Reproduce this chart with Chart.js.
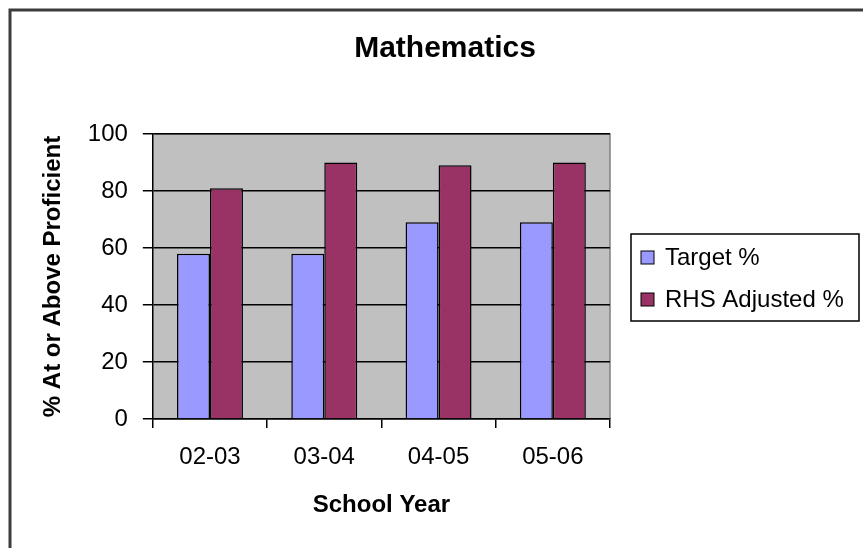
<!DOCTYPE html>
<html>
<head>
<meta charset="utf-8">
<script src="https://cdn.jsdelivr.net/npm/chart.js@4.4.1/dist/chart.umd.min.js"></script>
<style>
  html, body { margin: 0; padding: 0; background: #fff; }
  #wrap { width: 863px; height: 548px; position: relative; }
</style>
</head>
<body>
<div id="wrap"><canvas id="chart"></canvas></div>
<script>
// school years and the two series
var years = ["02-03", "03-04", "04-05", "05-06"];
var targetPct = [58, 58, 69, 69];
var rhsAdjustedPct = [81, 90, 89, 90];
var yTicks = [0, 20, 40, 60, 80, 100];

var FONT = "'Liberation Sans', Arial, sans-serif";

// grey plot area, frame round the chart, and the boxed legend on the right
var decor = {
    id: 'decor',
    beforeDraw: function(chart) {
        var ctx = chart.ctx, a = chart.chartArea;
        ctx.save();
        ctx.fillStyle = '#c0c0c0';
        ctx.fillRect(a.left, a.top, a.right - a.left, a.bottom - a.top);
        ctx.strokeStyle = '#808080';
        ctx.lineWidth = 1.5;
        ctx.beginPath();
        ctx.moveTo(a.left, a.top);
        ctx.lineTo(a.right, a.top);
        ctx.lineTo(a.right, a.bottom);
        ctx.stroke();
        // outer frame (only top and left show in the picture)
        ctx.strokeStyle = '#3c3c3c';
        ctx.lineWidth = 3;
        ctx.beginPath();
        ctx.moveTo(10, chart.height);
        ctx.lineTo(10, 10);
        ctx.lineTo(chart.width, 10);
        ctx.stroke();
        ctx.restore();
    },
    afterDraw: function(chart) {
        var ctx = chart.ctx, a = chart.chartArea;
        var lx = a.right + 31;
        var cy = (a.top + a.bottom) / 2;
        var rowGap = 42;
        ctx.save();
        ctx.strokeStyle = '#000';
        ctx.lineWidth = 1.5;
        ctx.strokeRect(lx - 10, cy - 42.5, 228, 87);
        ctx.font = '24px ' + FONT;
        ctx.textBaseline = 'middle';
        chart.data.datasets.forEach(function(ds, i) {
            var yc = cy - 19 + i * rowGap;
            ctx.fillStyle = ds.backgroundColor;
            ctx.fillRect(lx, yc - 6.5, 13, 13);
            ctx.lineWidth = 1;
            ctx.strokeStyle = '#000';
            ctx.strokeRect(lx, yc - 6.5, 13, 13);
            ctx.fillStyle = '#000';
            ctx.fillText(ds.label, lx + 24, yc + 1);
        });
        ctx.restore();
    }
};

new Chart(document.getElementById('chart'), {
    type: 'bar',
    data: {
        labels: years,
        datasets: [
            {
                label: 'Target %',
                data: targetPct,
                backgroundColor: '#9999ff',
                borderColor: '#000000',
                borderWidth: 1.5,
                categoryPercentage: 0.577,
                barPercentage: 1.0
            }, {
                label: 'RHS Adjusted %',
                data: rhsAdjustedPct,
                backgroundColor: '#993366',
                borderColor: '#000000',
                borderWidth: 1.5,
                categoryPercentage: 0.577,
                barPercentage: 1.0
            }
        ]
    },
    options: {
        responsive: true,
        maintainAspectRatio: false,
        animation: false,
        layout: { padding: { left: 39, right: 12, top: 10, bottom: 0 } },
        plugins: {
            title: {
                display: true,
                text: 'Mathematics',
                color: '#000',
                font: { family: FONT, size: 30, weight: 'bold' },
                padding: { top: 20.5, bottom: 67.5 }
            },
            legend: { display: false },
            tooltip: { enabled: false }
        },
        scales: {
            x: {
                grid: {
                    drawOnChartArea: false,
                    drawTicks: true,
                    tickLength: 9,
                    color: '#000',
                    lineWidth: 1.5
                },
                border: { display: true, color: '#000', width: 1.5 },
                ticks: {
                    color: '#000',
                    font: { family: FONT, size: 24 },
                    padding: 14.6
                },
                title: {
                    display: true,
                    text: 'School Year',
                    color: '#000',
                    font: { family: FONT, size: 24, weight: 'bold' },
                    padding: { top: 4.6, bottom: 28.6 }
                }
            },
            y: {
                min: 0,
                max: 100,
                afterBuildTicks: function(axis) {
                    axis.ticks = yTicks.map(function(v) { return { value: v }; });
                },
                grid: {
                    color: '#000',
                    lineWidth: 1.5,
                    tickLength: 10
                },
                border: { display: true, color: '#000', width: 1.5 },
                ticks: {
                    color: '#000',
                    font: { family: FONT, size: 24 },
                    padding: 15
                },
                title: {
                    display: true,
                    text: '% At or Above Proficient',
                    color: '#000',
                    font: { family: FONT, size: 24, weight: 'bold' },
                    padding: { top: 0, bottom: 5 }
                }
            },
            // empty space on the right, where the legend is drawn
            spacer: {
                type: 'linear',
                position: 'right',
                display: true,
                grid: { display: false },
                border: { display: false },
                ticks: { display: false },
                afterFit: function(scale) { scale.width = 241; }
            }
        }
    },
    plugins: [decor]
});
</script>
</body>
</html>
